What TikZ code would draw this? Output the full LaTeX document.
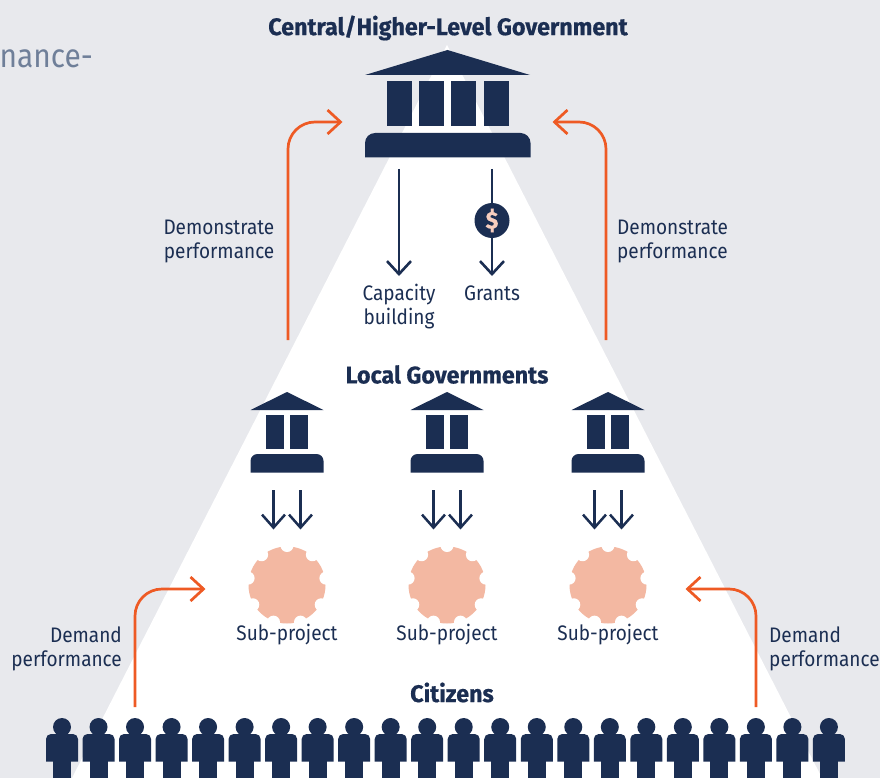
\documentclass[tikz,border=0pt]{standalone}
\usepackage{fontspec}
\setmainfont{Fira Sans}[FakeStretch=0.905,BoldFeatures={FakeStretch=0.97,FakeBold=0.6}]
\usetikzlibrary{arrows.meta}
\definecolor{navy}{HTML}{1B2E52}
\definecolor{paleback}{HTML}{E8E9ED}
\definecolor{flame}{HTML}{EE5A24}
\definecolor{salmon}{HTML}{F3B8A2}
\definecolor{slate}{HTML}{6F7F99}
\tikzset{
	label/.style={text=navy,font=\fontsize{21}{24.5}\selectfont,inner sep=0pt},
	heading/.style={text=navy,font=\fontsize{24}{27}\selectfont\bfseries,inner sep=0pt},
	down/.style={navy,line width=2.6pt,-{Straight Barb[length=13pt,width=24pt]}},
	smalldown/.style={navy,line width=2.5pt,-{Straight Barb[length=13pt,width=23pt]}},
	push/.style={flame,line width=2.7pt,rounded corners=27pt,-{Straight Barb[length=13pt,width=24pt]}}
}
\begin{document}
\begin{tikzpicture}[x=1pt,y=-1pt]
	\useasboundingbox (0,0) rectangle (880,778);
	\clip (0,0) rectangle (880,778);
	\fill[paleback] (0,0) rectangle (880,778);
	\fill[white] (447,45) -- (822,778) -- (72,778) -- cycle;
	\node[anchor=east,text=slate,font=\fontsize{33}{40}\selectfont,inner sep=0pt] (intro) at (93,59) {nance-};
	\node[heading] (central) at (448,28) {Central/Higher-Level Government};
	\node[heading] (local) at (447,374.5) {Local Governments};
	\node[heading] (citizens) at (452,692.5) {Citizens};
	\fill[navy] (447.5,50) -- (530,75) -- (365,75) -- cycle;
	\foreach \x in {387,419,451,484}
		\fill[navy] (\x,81) rectangle ++(25,45);
	\fill[navy] (365,157.5) [rounded corners=10pt] -- (365,133) -- (530.5,133) [sharp corners] -- (530.5,157.5) -- cycle;
	\coordinate (capstart) at (399,169);
	\coordinate (capend) at (399,276);
	\coordinate (grantstart) at (492,169);
	\coordinate (grantend) at (492,276);
	\draw[down] (capstart) -- (capend);
	\draw[down] (grantstart) -- (grantend);
	\node[circle,fill=navy,minimum size=35pt,inner sep=0pt,text=salmon!70!white,font=\fontsize{24}{24}\selectfont\bfseries] (coin) at (492,220.5) {\$};
	\node[label,align=center] (capacity) at (399,306.5) {Capacity\\building};
	\node[label] (grants) at (492,293) {Grants};
	\node[label,align=right,anchor=east] (demoleft) at (274.5,241.5) {Demonstrate\\performance};
	\node[label,align=left,anchor=west] (demoright) at (617,241.5) {Demonstrate\\performance};
	\node[label,align=right,anchor=east] (demandleft) at (122,649) {Demand\\performance};
	\node[label,align=left,anchor=west] (demandright) at (769,649) {Demand\\performance};
	\foreach \x/\n in {287/a,447/b,608/c}{
		\fill[navy] (\x,392) -- (\x+36.5,410) -- (\x-36.5,410) -- cycle;
		\fill[navy] (\x-21,415) rectangle ++(18,34);
		\fill[navy] (\x+3,415) rectangle ++(18,34);
		\fill[navy] (\x-36.5,472.5) [rounded corners=7pt] -- (\x-36.5,454) -- (\x+36.5,454) [sharp corners] -- (\x+36.5,472.5) -- cycle;
		\coordinate (one\n) at (\x-13.5,490);
		\coordinate (two\n) at (\x+13.5,490);
		\coordinate (oneend\n) at (\x-13.5,529.5);
		\coordinate (twoend\n) at (\x+13.5,529.5);
		\draw[smalldown] (one\n) -- (oneend\n);
		\draw[smalldown] (two\n) -- (twoend\n);
		\fill[salmon] (\x,585) circle (38.5);
		\foreach \a in {90,130,...,410}
			\fill[white] (\x,585) ++(\a:-39.5) circle (6.5);
		\node[label] (sub\n) at (\x,634.5) {Sub-project};
	}
	\coordinate (upleft) at (288,340);
	\coordinate (upleftend) at (342.5,122);
	\coordinate (upright) at (606,340);
	\coordinate (uprightend) at (552.5,122);
	\coordinate (lowleft) at (135,707);
	\coordinate (lowleftend) at (205.5,589);
	\coordinate (lowright) at (756,707);
	\coordinate (lowrightend) at (685.5,589);
	\draw[push] (upleft) |- (upleftend);
	\draw[push] (upright) |- (uprightend);
	\draw[push] (lowleft) |- (lowleftend);
	\draw[push] (lowright) |- (lowrightend);
	\foreach \i in {0,...,21}{
		\fill[navy] (62+36.52*\i,727) circle (9);
		\fill[navy] (46+36.52*\i,761.5) [rounded corners=5pt] -- (46+36.52*\i,734) -- (78+36.52*\i,734) [sharp corners] -- (78+36.52*\i,761.5) -- cycle;
		\fill[navy] (53+36.52*\i,760) rectangle (71+36.52*\i,778);
	}
\end{tikzpicture}
\end{document}
